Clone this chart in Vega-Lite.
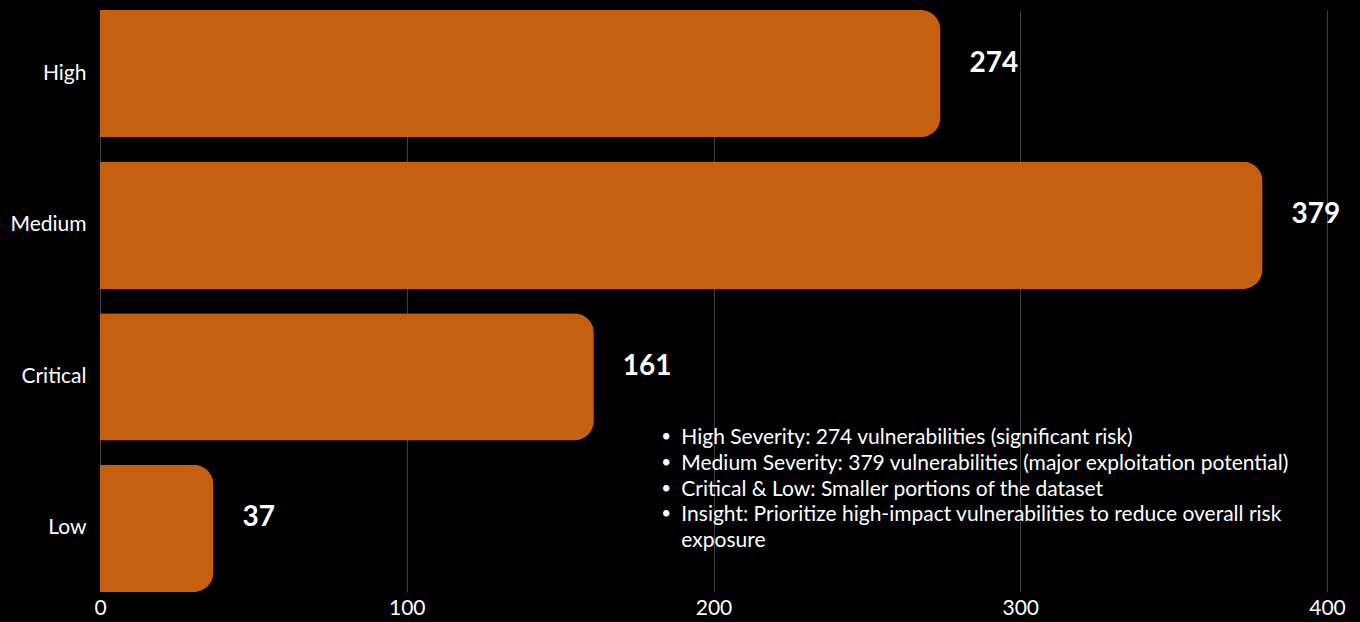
{
  "$schema": "https://vega.github.io/schema/vega-lite/v6.json",
  "autosize": {"type": "none"},
  "width": 1227,
  "height": 582,
  "padding": {"left": 100, "top": 10, "right": 33, "bottom": 30},
  "background": "#000000",
  "config": {
    "view": {"stroke": null},
    "font": "Lato",
    "axis": {"labelColor": "#ffffff", "labelFont": "Lato", "labelFontSize": 21, "domain": false, "ticks": false, "title": null, "gridColor": "#404040", "gridWidth": 1}
  },
  "layer": [
    {
      "data": {"values": [
        {"severity": "High", "count": 274},
        {"severity": "Medium", "count": 379},
        {"severity": "Critical", "count": 161},
        {"severity": "Low", "count": 37}
      ]},
      "layer": [
        {
          "mark": {"type": "bar", "color": "#C4600F", "cornerRadiusTopRight": 20, "cornerRadiusBottomRight": 20},
          "encoding": {
            "y": {"field": "severity", "type": "nominal", "sort": null, "scale": {"paddingInner": 0.16, "paddingOuter": 0}, "axis": {"labelPadding": 14, "grid": false}},
            "x": {"field": "count", "type": "quantitative", "scale": {"domain": [0, 400], "nice": false}, "axis": {"values": [0, 100, 200, 300, 400], "labelPadding": 5, "labelFlush": false, "grid": true}}
          }
        },
        {
          "mark": {"type": "text", "color": "#ffffff", "fontSize": 28, "fontWeight": "bold", "align": "left", "baseline": "middle", "dx": 29, "dy": -10},
          "encoding": {
            "y": {"field": "severity", "type": "nominal", "sort": null},
            "x": {"field": "count", "type": "quantitative"},
            "text": {"field": "count", "type": "quantitative"}
          }
        }
      ]
    },
    {
      "data": {"values": [
        {"xpos": 183, "row": "Low", "bullets": "•\n•\n•\n•", "note": "High Severity: 274 vulnerabilities (significant risk)\nMedium Severity: 379 vulnerabilities  (major exploitation potential)\nCritical & Low: Smaller portions of the dataset\nInsight: Prioritize high-impact vulnerabilities to reduce overall risk\nexposure"}
      ]},
      "layer": [
        {
          "mark": {"type": "text", "color": "#ffffff", "fontSize": 17, "align": "left", "baseline": "middle", "lineBreak": "\n", "lineHeight": 25.7, "dy": -91},
          "encoding": {
            "x": {"field": "xpos", "type": "quantitative"},
            "y": {"field": "row", "type": "nominal", "sort": null},
            "text": {"field": "bullets"}
          }
        },
        {
          "mark": {"type": "text", "color": "#ffffff", "fontSize": 21, "align": "left", "baseline": "top", "lineBreak": "\n", "lineHeight": 25.7, "dx": 20, "dy": -101},
          "encoding": {
            "x": {"field": "xpos", "type": "quantitative"},
            "y": {"field": "row", "type": "nominal", "sort": null},
            "text": {"field": "note"}
          }
        }
      ]
    }
  ]
}
